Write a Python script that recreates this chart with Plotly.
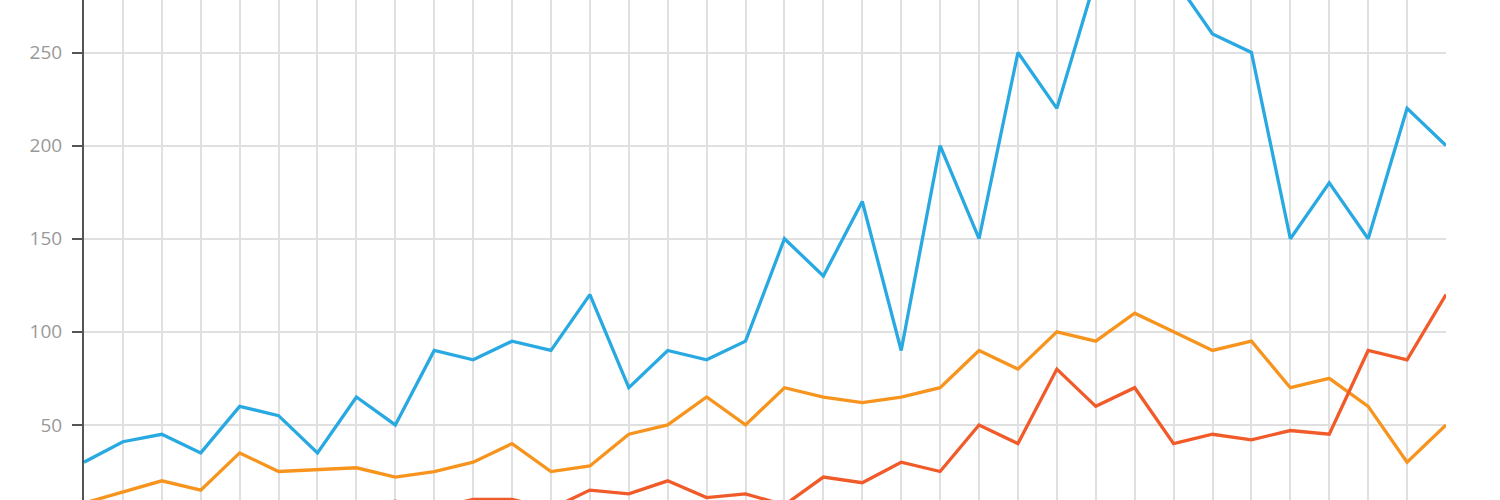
import plotly.graph_objects as go

# one point per period, 36 periods
periods = list(range(36))

blue_vals = [30, 41, 45, 35, 60, 55, 35, 65, 50, 90, 85, 95, 90, 120, 70, 90, 85, 95,
             150, 130, 170, 90, 200, 150, 250, 220, 290, 300, 290, 260, 250, 150, 180, 150,
             220, 200]
orange_vals = [8, 14, 20, 15, 35, 25, 26, 27, 22, 25, 30, 40, 25, 28, 45, 50, 65, 50,
               70, 65, 62, 65, 70, 90, 80, 100, 95, 110, 100, 90, 95, 70, 75, 60,
               30, 50]
red_vals = [4, 3, 5, 2, 6, 4, 3, 5, 9, 5, 10, 10, 5, 15, 13, 20, 11, 13,
            7, 22, 19, 30, 25, 50, 40, 80, 60, 70, 40, 45, 42, 47, 45, 90,
            85, 120]

fig = go.Figure()
for vals, col in [(blue_vals, '#29a9e1'), (orange_vals, '#f7941e'), (red_vals, '#f15a29')]:
    fig.add_trace(go.Scatter(x=periods, y=vals, mode='lines',
                             line=dict(color=col, width=3.3), showlegend=False))

fig.update_layout(width=1500, height=500,
                  margin=dict(l=84, r=54, t=0, b=0, autoexpand=False),
                  plot_bgcolor='white', paper_bgcolor='white',
                  font=dict(family='Open Sans', color='#999999', size=19))
fig.update_xaxes(range=[0, 35], dtick=1, showticklabels=False, showgrid=True,
                 gridcolor='#e0e0e0', gridwidth=1.5, zeroline=False, showline=False,
                 automargin=False)
fig.update_yaxes(range=[9.7, 278.2], dtick=50, showgrid=True, gridcolor='#e0e0e0',
                 gridwidth=1.5, zeroline=False, showline=True, linecolor='#555555',
                 linewidth=2, ticks='outside', ticklen=10, tickcolor='#555555',
                 tickwidth=2, ticklabelstandoff=6, automargin=False)

# page has a default 8px body margin; drop it so the chart sits at the corner
fig.write_html("out.html", config={'displayModeBar': False},
               post_script="document.body.style.margin='0';")
